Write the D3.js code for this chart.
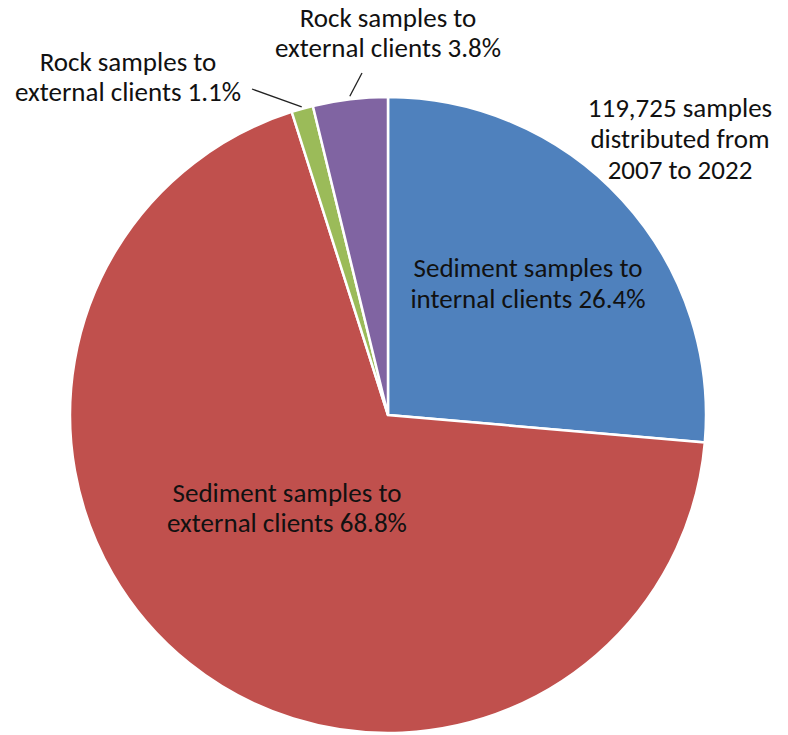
<!DOCTYPE html>
<html><head><meta charset="utf-8">
<script src="https://cdn.jsdelivr.net/npm/d3@7"></script>
<style>body{margin:0;background:#fff}svg text{font-family:Carlito,Calibri,Lato,"Open Sans",sans-serif;fill:#111}</style>
</head><body><svg id="c" width="788" height="735"></svg>
<script>
const categories = ["Sediment samples to internal clients","Sediment samples to external clients","Rock samples to external clients","Rock samples to external clients"];
const values = [26.4, 68.8, 1.1, 3.8];
const labels = [["Sediment samples to","internal clients 26.4%"],["Sediment samples to","external clients 68.8%"],["Rock samples to","external clients 1.1%"],["Rock samples to","external clients 3.8%"]];
const colors = ["#4F81BD","#C0504D","#9BBB59","#8064A2"];
const note = ["119,725 samples","distributed from","2007 to 2022"];

const svg = d3.select("#c");
const cx = 388, cy = 415, R = 318;
const pie = d3.pie().sort(null).value(d=>d)(values);
const arc = d3.arc().innerRadius(0).outerRadius(R);
const g = svg.append("g").attr("transform",`translate(${cx},${cy})`);
g.selectAll("path").data(pie).join("path").attr("d",arc).attr("fill",(d,i)=>colors[i]).attr("stroke","#fff").attr("stroke-width",2.5);

const fs = 27;
function block(lines, x, y, lh){
  const t = svg.append("text").attr("text-anchor","middle").style("font-size",fs+"px");
  lines.forEach((l,i)=>t.append("tspan").attr("x",x).attr("y",y+i*lh).text(l));
}
block(labels[0], 528, 277, 31);
block(labels[1], 287, 502, 30);
block(labels[2], 128, 71, 30);
block(labels[3], 388, 27, 30);
block(note, 680, 117, 31);

// leader lines
const c2 = d3.arc().innerRadius(R+2).outerRadius(R+2).centroid(pie[2]);
svg.append("line").attr("x1",252).attr("y1",89).attr("x2",cx+c2[0]).attr("y2",cy+c2[1]).attr("stroke","#222").attr("stroke-width",1.3);
const c3 = d3.arc().innerRadius(R+3).outerRadius(R+3).centroid(pie[3]);
svg.append("line").attr("x1",362).attr("y1",73).attr("x2",cx+c3[0]).attr("y2",cy+c3[1]).attr("stroke","#222").attr("stroke-width",1.3);
</script></body></html>
